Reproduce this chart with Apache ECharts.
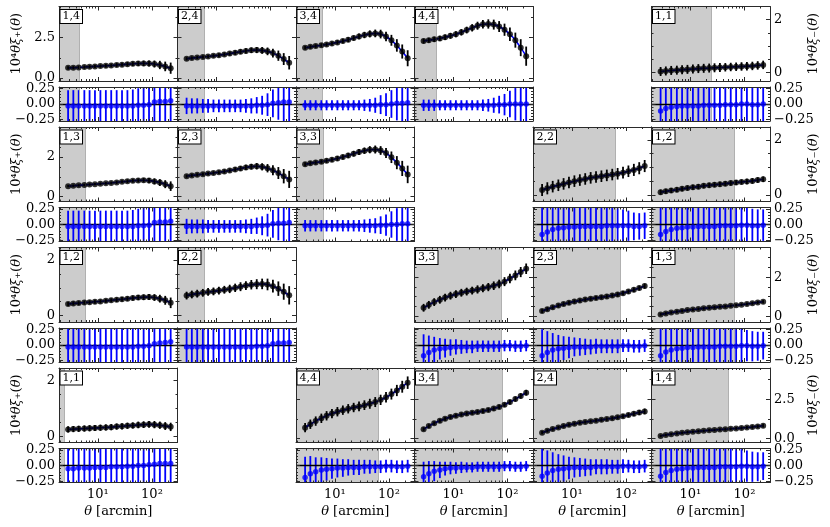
<!DOCTYPE html>
<html>
<head>
<meta charset="utf-8">
<script src="https://cdn.jsdelivr.net/npm/echarts@6/dist/echarts.min.js"></script>
<style>html,body{margin:0;background:#fff}#main{width:830px;height:527px}</style>
</head>
<body>
<div id="main"></div>
<script>
// angular bins [arcmin]
var theta = [2.8, 3.5, 4.4, 5.6, 7.0, 8.8, 11.1, 14.0, 17.6, 22.2, 27.9, 35.1, 44.2, 55.7, 70.1, 88.2, 111, 140, 176, 222];
var xMajor = [10, 100];
var xMinor = [2, 3, 4, 5, 6, 7, 8, 9, 20, 30, 40, 50, 60, 70, 80, 90, 200];

// xi+ (10^4 theta xi_+)
var xip_14 = [0.62,0.63,0.65,0.67,0.69,0.71,0.73,0.75,0.77,0.80,0.82,0.85,0.87,0.89,0.90,0.89,0.86,0.80,0.71,0.60];
var xip_14_err = [0.10,0.10,0.10,0.10,0.10,0.10,0.10,0.11,0.11,0.12,0.12,0.13,0.14,0.15,0.17,0.19,0.22,0.26,0.30,0.35];
var xip_24 = [1.19,1.23,1.27,1.30,1.33,1.37,1.41,1.46,1.51,1.57,1.63,1.68,1.72,1.73,1.71,1.65,1.54,1.38,1.17,0.94];
var xip_24_err = [0.10,0.10,0.10,0.10,0.11,0.11,0.12,0.12,0.13,0.14,0.15,0.16,0.17,0.19,0.21,0.24,0.28,0.32,0.37,0.42];
var xip_34 = [1.88,1.93,1.98,2.03,2.08,2.14,2.21,2.29,2.38,2.48,2.58,2.67,2.74,2.77,2.73,2.58,2.34,2.02,1.64,1.22];
var xip_34_err = [0.11,0.11,0.11,0.12,0.12,0.13,0.13,0.14,0.15,0.16,0.18,0.20,0.22,0.24,0.27,0.30,0.34,0.39,0.44,0.50];
var xip_44 = [2.29,2.34,2.40,2.46,2.53,2.62,2.72,2.84,2.98,3.12,3.25,3.34,3.36,3.32,3.20,3.00,2.72,2.35,1.88,1.35];
var xip_44_err = [0.15,0.15,0.16,0.16,0.17,0.18,0.19,0.20,0.21,0.23,0.25,0.27,0.29,0.31,0.34,0.38,0.42,0.47,0.53,0.60];
var xip_13 = [0.53,0.55,0.57,0.59,0.61,0.63,0.65,0.67,0.69,0.72,0.75,0.78,0.80,0.82,0.83,0.81,0.77,0.71,0.63,0.53];
var xip_13_err = [0.06,0.06,0.06,0.06,0.06,0.06,0.07,0.07,0.07,0.08,0.08,0.09,0.09,0.10,0.11,0.13,0.15,0.17,0.20,0.24];
var xip_23 = [1.03,1.07,1.10,1.13,1.16,1.19,1.23,1.27,1.32,1.37,1.42,1.47,1.51,1.53,1.50,1.43,1.33,1.19,1.03,0.87];
var xip_23_err = [0.08,0.08,0.08,0.08,0.08,0.09,0.09,0.10,0.10,0.11,0.12,0.13,0.14,0.16,0.18,0.21,0.25,0.30,0.36,0.43];
var xip_33 = [1.63,1.68,1.72,1.76,1.81,1.86,1.92,1.99,2.07,2.16,2.24,2.31,2.36,2.37,2.32,2.19,1.98,1.71,1.42,1.12];
var xip_33_err = [0.10,0.10,0.10,0.10,0.11,0.11,0.12,0.12,0.13,0.14,0.15,0.16,0.18,0.20,0.22,0.25,0.29,0.33,0.38,0.44];
var xip_12 = [0.42,0.44,0.45,0.47,0.48,0.50,0.51,0.53,0.55,0.57,0.59,0.61,0.63,0.65,0.66,0.67,0.65,0.61,0.55,0.46];
var xip_12_err = [0.07,0.07,0.07,0.07,0.07,0.07,0.07,0.07,0.07,0.08,0.08,0.08,0.09,0.09,0.10,0.11,0.12,0.14,0.16,0.19];
var xip_22 = [0.72,0.76,0.79,0.82,0.85,0.87,0.90,0.93,0.96,1.00,1.04,1.08,1.11,1.13,1.14,1.12,1.06,0.97,0.86,0.73];
var xip_22_err = [0.14,0.14,0.14,0.14,0.14,0.14,0.14,0.14,0.15,0.15,0.16,0.16,0.17,0.18,0.19,0.21,0.23,0.26,0.29,0.33];
var xip_11 = [0.25,0.26,0.27,0.28,0.29,0.30,0.31,0.32,0.33,0.35,0.36,0.38,0.39,0.41,0.42,0.43,0.42,0.40,0.37,0.34];
var xip_11_err = [0.11,0.11,0.11,0.11,0.11,0.11,0.11,0.11,0.11,0.11,0.11,0.11,0.11,0.12,0.12,0.12,0.13,0.13,0.14,0.15];

// xi- (10^4 theta xi_-)
var xim_11 = [0.04,0.06,0.08,0.09,0.11,0.12,0.13,0.15,0.16,0.17,0.18,0.19,0.20,0.21,0.22,0.23,0.24,0.25,0.27,0.29];
var xim_11_err = [0.17,0.17,0.17,0.17,0.17,0.17,0.17,0.17,0.17,0.17,0.17,0.17,0.16,0.16,0.16,0.16,0.16,0.16,0.16,0.16];
var xim_22 = [0.18,0.24,0.30,0.35,0.40,0.45,0.50,0.54,0.58,0.62,0.65,0.68,0.71,0.74,0.77,0.81,0.86,0.91,0.97,1.05];
var xim_22_err = [0.22,0.22,0.21,0.21,0.21,0.21,0.21,0.21,0.21,0.21,0.21,0.21,0.21,0.21,0.21,0.21,0.21,0.22,0.22,0.22];
var xim_12 = [0.10,0.13,0.16,0.19,0.22,0.25,0.28,0.30,0.33,0.35,0.37,0.39,0.41,0.43,0.45,0.47,0.49,0.51,0.54,0.57];
var xim_12_err = [0.09,0.09,0.09,0.09,0.09,0.09,0.09,0.09,0.09,0.09,0.09,0.09,0.09,0.09,0.09,0.09,0.10,0.10,0.10,0.10];
var xim_33 = [0.43,0.58,0.72,0.84,0.95,1.05,1.13,1.20,1.26,1.31,1.37,1.43,1.49,1.56,1.65,1.77,1.93,2.09,2.26,2.43];
var xim_33_err = [0.20,0.20,0.20,0.20,0.20,0.20,0.20,0.20,0.20,0.20,0.21,0.21,0.21,0.22,0.22,0.23,0.24,0.25,0.26,0.27];
var xim_23 = [0.26,0.36,0.45,0.54,0.62,0.69,0.75,0.80,0.85,0.89,0.93,0.97,1.01,1.06,1.11,1.18,1.26,1.35,1.44,1.54];
var xim_23_err = [0.10,0.10,0.10,0.10,0.10,0.10,0.10,0.10,0.10,0.10,0.10,0.10,0.10,0.10,0.11,0.11,0.11,0.12,0.12,0.13];
var xim_13 = [0.09,0.14,0.19,0.23,0.27,0.31,0.34,0.37,0.40,0.43,0.45,0.48,0.50,0.53,0.56,0.59,0.62,0.66,0.70,0.74];
var xim_13_err = [0.07,0.07,0.07,0.07,0.07,0.07,0.07,0.07,0.07,0.07,0.07,0.07,0.07,0.07,0.07,0.07,0.08,0.08,0.08,0.09];
var xim_44 = [0.68,0.90,1.10,1.28,1.44,1.58,1.70,1.80,1.89,1.97,2.04,2.12,2.21,2.32,2.46,2.63,2.83,3.06,3.30,3.56];
var xim_44_err = [0.30,0.30,0.30,0.30,0.30,0.30,0.30,0.30,0.30,0.30,0.31,0.31,0.32,0.32,0.33,0.34,0.35,0.36,0.38,0.40];
var xim_34 = [0.58,0.78,0.96,1.12,1.25,1.36,1.45,1.52,1.58,1.63,1.68,1.74,1.81,1.90,2.01,2.15,2.32,2.51,2.71,2.92];
var xim_34_err = [0.12,0.12,0.12,0.12,0.12,0.12,0.12,0.12,0.12,0.12,0.12,0.13,0.13,0.13,0.14,0.14,0.15,0.16,0.17,0.18];
var xim_24 = [0.36,0.48,0.59,0.69,0.78,0.86,0.93,0.99,1.04,1.09,1.13,1.18,1.23,1.28,1.34,1.41,1.49,1.57,1.65,1.72];
var xim_24_err = [0.10,0.10,0.10,0.10,0.10,0.10,0.10,0.10,0.10,0.10,0.11,0.11,0.11,0.12,0.12,0.13,0.14,0.15,0.16,0.18];
var xim_14 = [0.15,0.21,0.26,0.31,0.35,0.39,0.42,0.45,0.48,0.51,0.53,0.56,0.58,0.61,0.63,0.66,0.69,0.72,0.76,0.81];
var xim_14_err = [0.08,0.08,0.08,0.08,0.08,0.08,0.08,0.08,0.08,0.08,0.08,0.08,0.09,0.09,0.09,0.10,0.10,0.11,0.11,0.12];

// fractional residuals, xi+ panels
var rp_14 = [-0.03,-0.03,-0.03,-0.03,-0.03,-0.03,-0.03,-0.03,-0.03,-0.03,-0.03,-0.03,-0.03,-0.02,-0.02,-0.01,0.03,0.04,0.04,0.05];
var rp_14_err = [0.25,0.25,0.25,0.25,0.25,0.25,0.25,0.25,0.25,0.25,0.25,0.25,0.26,0.27,0.30,0.33,0.40,0.45,0.50,0.55];
var rp_24 = [-0.03,-0.03,-0.03,-0.03,-0.03,-0.03,-0.03,-0.03,-0.03,-0.03,-0.03,-0.03,-0.03,-0.02,-0.02,-0.01,0.01,0.02,0.03,0.03];
var rp_24_err = [0.13,0.12,0.12,0.11,0.11,0.10,0.10,0.10,0.10,0.10,0.10,0.11,0.12,0.13,0.15,0.18,0.22,0.27,0.32,0.38];
var rp_34 = [-0.02,-0.02,-0.02,-0.02,-0.02,-0.02,-0.02,-0.02,-0.02,-0.02,-0.02,-0.02,-0.02,-0.02,-0.01,-0.01,0.00,0.01,0.01,0.02];
var rp_34_err = [0.08,0.08,0.08,0.08,0.08,0.08,0.08,0.08,0.08,0.08,0.08,0.09,0.10,0.12,0.15,0.18,0.22,0.27,0.32,0.38];
var rp_44 = [-0.02,-0.02,-0.02,-0.02,-0.02,-0.02,-0.02,-0.02,-0.02,-0.02,-0.02,-0.02,-0.02,-0.02,-0.01,-0.01,0.00,0.00,0.00,0.00];
var rp_44_err = [0.09,0.09,0.09,0.08,0.08,0.08,0.08,0.08,0.08,0.08,0.08,0.09,0.10,0.12,0.14,0.17,0.21,0.26,0.31,0.37];
var rp_13 = [-0.03,-0.03,-0.03,-0.03,-0.03,-0.03,-0.03,-0.03,-0.03,-0.03,-0.03,-0.03,-0.03,-0.02,-0.02,-0.01,0.03,0.04,0.04,0.05];
var rp_13_err = [0.25,0.25,0.25,0.25,0.25,0.25,0.25,0.25,0.25,0.25,0.25,0.25,0.26,0.27,0.30,0.33,0.40,0.45,0.50,0.55];
var rp_23 = [-0.03,-0.03,-0.03,-0.03,-0.03,-0.03,-0.03,-0.03,-0.03,-0.03,-0.03,-0.03,-0.03,-0.02,-0.02,-0.01,0.01,0.02,0.02,0.03];
var rp_23_err = [0.12,0.11,0.11,0.11,0.10,0.10,0.10,0.10,0.10,0.10,0.10,0.11,0.12,0.13,0.15,0.18,0.22,0.27,0.32,0.38];
var rp_33 = [-0.02,-0.02,-0.02,-0.02,-0.02,-0.02,-0.02,-0.02,-0.02,-0.02,-0.02,-0.02,-0.02,-0.02,-0.01,-0.01,0.00,0.00,0.01,0.01];
var rp_33_err = [0.09,0.09,0.09,0.09,0.09,0.09,0.09,0.09,0.09,0.09,0.09,0.10,0.11,0.12,0.14,0.17,0.21,0.26,0.31,0.37];
var rp_12 = [-0.03,-0.03,-0.03,-0.03,-0.03,-0.03,-0.03,-0.03,-0.03,-0.03,-0.03,-0.03,-0.03,-0.02,-0.02,-0.01,0.02,0.03,0.04,0.05];
var rp_12_err = [0.30,0.30,0.30,0.30,0.30,0.30,0.30,0.30,0.30,0.30,0.30,0.30,0.30,0.32,0.34,0.37,0.42,0.47,0.52,0.57];
var rp_22 = [-0.03,-0.03,-0.03,-0.03,-0.03,-0.03,-0.03,-0.03,-0.03,-0.03,-0.03,-0.03,-0.03,-0.02,-0.02,-0.01,0.02,0.03,0.03,0.04];
var rp_22_err = [0.30,0.30,0.30,0.30,0.30,0.30,0.30,0.30,0.30,0.30,0.30,0.30,0.30,0.32,0.34,0.37,0.42,0.47,0.52,0.57];
var rp_11 = [-0.05,-0.05,-0.04,-0.04,-0.04,-0.03,-0.03,-0.03,-0.02,-0.02,-0.02,-0.01,-0.01,0.00,0.00,0.01,0.02,0.03,0.03,0.03];
var rp_11_err = [0.32,0.32,0.32,0.32,0.32,0.32,0.32,0.32,0.32,0.32,0.32,0.32,0.33,0.34,0.36,0.38,0.42,0.46,0.50,0.55];

// fractional residuals, xi- panels
var rm_11 = [-0.11,-0.07,-0.05,-0.04,-0.03,-0.03,-0.03,-0.03,-0.02,-0.02,-0.02,-0.02,-0.01,-0.01,-0.01,0.00,0.00,-0.01,-0.01,0.00];
var rm_11_err = [0.40,0.40,0.40,0.40,0.40,0.40,0.40,0.40,0.40,0.40,0.40,0.40,0.40,0.40,0.40,0.40,0.40,0.40,0.40,0.40];
var rm_22 = [-0.16,-0.12,-0.08,-0.06,-0.05,-0.04,-0.04,-0.03,-0.03,-0.03,-0.03,-0.03,-0.02,-0.02,-0.02,-0.02,-0.02,-0.03,-0.03,-0.02];
var rm_22_err = [0.45,0.42,0.40,0.38,0.37,0.36,0.35,0.34,0.33,0.32,0.31,0.30,0.30,0.29,0.28,0.26,0.24,0.22,0.21,0.21];
var rm_12 = [-0.16,-0.11,-0.08,-0.06,-0.05,-0.04,-0.04,-0.03,-0.03,-0.03,-0.03,-0.02,-0.02,-0.02,-0.02,-0.01,-0.01,-0.02,-0.02,-0.01];
var rm_12_err = [0.50,0.48,0.46,0.44,0.42,0.40,0.38,0.37,0.36,0.35,0.34,0.33,0.32,0.31,0.30,0.29,0.28,0.27,0.26,0.25];
var rm_33 = [-0.17,-0.12,-0.08,-0.06,-0.05,-0.04,-0.03,-0.03,-0.03,-0.03,-0.02,-0.02,-0.02,-0.02,-0.02,-0.01,-0.01,-0.02,-0.02,-0.01];
var rm_33_err = [0.34,0.27,0.21,0.17,0.15,0.13,0.12,0.11,0.10,0.10,0.09,0.09,0.09,0.09,0.09,0.09,0.09,0.09,0.09,0.09];
var rm_23 = [-0.17,-0.12,-0.08,-0.06,-0.05,-0.04,-0.03,-0.03,-0.03,-0.03,-0.02,-0.02,-0.02,-0.02,-0.02,-0.01,-0.01,-0.02,-0.02,-0.01];
var rm_23_err = [0.42,0.34,0.27,0.22,0.19,0.17,0.15,0.14,0.13,0.12,0.12,0.11,0.11,0.11,0.11,0.10,0.10,0.10,0.10,0.10];
var rm_13 = [-0.17,-0.11,-0.08,-0.06,-0.05,-0.04,-0.04,-0.03,-0.03,-0.03,-0.03,-0.02,-0.02,-0.02,-0.02,-0.01,-0.01,-0.02,-0.02,-0.01];
var rm_13_err = [0.55,0.52,0.49,0.46,0.44,0.42,0.40,0.38,0.36,0.34,0.33,0.32,0.30,0.29,0.28,0.27,0.25,0.24,0.23,0.22];
var rm_44 = [-0.19,-0.13,-0.10,-0.07,-0.06,-0.05,-0.04,-0.04,-0.03,-0.03,-0.03,-0.02,-0.02,-0.02,-0.02,-0.01,-0.01,-0.02,-0.02,-0.01];
var rm_44_err = [0.33,0.28,0.23,0.20,0.18,0.16,0.15,0.14,0.13,0.12,0.12,0.11,0.11,0.10,0.10,0.10,0.10,0.10,0.10,0.10];
var rm_34 = [-0.18,-0.13,-0.09,-0.07,-0.05,-0.04,-0.04,-0.03,-0.03,-0.03,-0.02,-0.02,-0.02,-0.02,-0.02,-0.01,-0.01,-0.02,-0.02,-0.01];
var rm_34_err = [0.24,0.20,0.16,0.13,0.11,0.10,0.09,0.09,0.08,0.08,0.08,0.08,0.08,0.08,0.08,0.08,0.08,0.08,0.08,0.08];
var rm_24 = [-0.17,-0.12,-0.08,-0.06,-0.05,-0.04,-0.03,-0.03,-0.03,-0.03,-0.02,-0.02,-0.02,-0.02,-0.02,-0.01,-0.01,-0.02,-0.02,-0.01];
var rm_24_err = [0.45,0.36,0.29,0.24,0.21,0.18,0.16,0.15,0.14,0.13,0.12,0.12,0.12,0.11,0.11,0.11,0.10,0.10,0.10,0.10];
var rm_14 = [-0.17,-0.11,-0.08,-0.06,-0.05,-0.04,-0.04,-0.03,-0.03,-0.03,-0.03,-0.02,-0.02,-0.02,-0.02,-0.01,-0.01,-0.02,-0.02,-0.01];
var rm_14_err = [0.55,0.52,0.49,0.46,0.44,0.42,0.40,0.38,0.36,0.34,0.33,0.32,0.30,0.29,0.28,0.27,0.25,0.24,0.23,0.22];

// y ranges and ticks per row: [min, max]
var plusRange = [[-0.2, 4.45], [-0.24, 3.5], [-0.23, 2.45], [-0.22, 2.45]];
var plusLabels = [[0, 2.5], [0, 2], [0, 2], [0, 2]];
var plusTicks = [[1.25, 3.75], [0.5, 1, 1.5, 2.5, 3], [0.5, 1, 1.5], [0.5, 1, 1.5]];
var minusRange = [[-0.32, 2.5], [-0.24, 2.47], [-0.3, 3.52], [-0.27, 4.5]];
var minusLabels = [[0, 2], [0, 2], [0, 2], [0, 2.5]];
var minusTicks = [[0.5, 1, 1.5], [0.5, 1, 1.5], [0.5, 1, 1.5, 2.5, 3], [1.25, 3.75]];
var resRange = [-0.27, 0.27];
var resLabels = [-0.25, 0, 0.25];
var resTicks = [-0.2, -0.15, -0.1, -0.05, 0.05, 0.1, 0.15, 0.2];

var panels = [
  {label: '1,4', kind: 'p', row: 0, col: 0, val: xip_14, err: xip_14_err, res: rp_14, resErr: rp_14_err, cut: 4.6},
  {label: '2,4', kind: 'p', row: 0, col: 1, val: xip_24, err: xip_24_err, res: rp_24, resErr: rp_24_err, cut: 5.9},
  {label: '3,4', kind: 'p', row: 0, col: 2, val: xip_34, err: xip_34_err, res: rp_34, resErr: rp_34_err, cut: 5.9},
  {label: '4,4', kind: 'p', row: 0, col: 3, val: xip_44, err: xip_44_err, res: rp_44, resErr: rp_44_err, cut: 4.8},
  {label: '1,1', kind: 'm', row: 0, col: 5, val: xim_11, err: xim_11_err, res: rm_11, resErr: rm_11_err, cut: 24.6},
  {label: '1,3', kind: 'p', row: 1, col: 0, val: xip_13, err: xip_13_err, res: rp_13, resErr: rp_13_err, cut: 5.9},
  {label: '2,3', kind: 'p', row: 1, col: 1, val: xip_23, err: xip_23_err, res: rp_23, resErr: rp_23_err, cut: 5.9},
  {label: '3,3', kind: 'p', row: 1, col: 2, val: xip_33, err: xip_33_err, res: rp_33, resErr: rp_33_err, cut: 6.0},
  {label: '2,2', kind: 'm', row: 1, col: 4, val: xim_22, err: xim_22_err, res: rm_22, resErr: rm_22_err, cut: 64},
  {label: '1,2', kind: 'm', row: 1, col: 5, val: xim_12, err: xim_12_err, res: rm_12, resErr: rm_12_err, cut: 64},
  {label: '1,2', kind: 'p', row: 2, col: 0, val: xip_12, err: xip_12_err, res: rp_12, resErr: rp_12_err, cut: 5.9},
  {label: '2,2', kind: 'p', row: 2, col: 1, val: xip_22, err: xip_22_err, res: rp_22, resErr: rp_22_err, cut: 5.9},
  {label: '3,3', kind: 'm', row: 2, col: 3, val: xim_33, err: xim_33_err, res: rm_33, resErr: rm_33_err, cut: 78},
  {label: '2,3', kind: 'm', row: 2, col: 4, val: xim_23, err: xim_23_err, res: rm_23, resErr: rm_23_err, cut: 80},
  {label: '1,3', kind: 'm', row: 2, col: 5, val: xim_13, err: xim_13_err, res: rm_13, resErr: rm_13_err, cut: 65},
  {label: '1,1', kind: 'p', row: 3, col: 0, val: xip_11, err: xip_11_err, res: rp_11, resErr: rp_11_err, cut: 2.35},
  {label: '4,4', kind: 'm', row: 3, col: 2, val: xim_44, err: xim_44_err, res: rm_44, resErr: rm_44_err, cut: 63},
  {label: '3,4', kind: 'm', row: 3, col: 3, val: xim_34, err: xim_34_err, res: rm_34, resErr: rm_34_err, cut: 80},
  {label: '2,4', kind: 'm', row: 3, col: 4, val: xim_24, err: xim_24_err, res: rm_24, resErr: rm_24_err, cut: 80},
  {label: '1,4', kind: 'm', row: 3, col: 5, val: xim_14, err: xim_14_err, res: rm_14, resErr: rm_14_err, cut: 50}
];

// layout
var XMIN = 1.9, XMAX = 297;
var X0 = 59, CW = 118.5, TOP0 = 6.5, ROWH = 120.5, MAINH = 74.5, RESGAP = 6, RESH = 34;
var FONT = 'DejaVu Serif';
var FS = 13;
var FRAME = '#2a2a2a', SHADE = '#cccccc', CUTLINE = '#b0b0b0', BLUE = '#0000ff';

var grids = [], xAxes = [], yAxes = [], series = [], graphics = [];
var italic = {i: {fontStyle: 'italic', fontFamily: FONT, fontSize: FS, color: '#000'}};

function supFmt(v) {
  return Math.round(Math.log(v) / Math.LN10) === 1 ? '10\u00b9' : '10\u00b2';
}

function addXAxes(gi, showLabels) {
  var first = xAxes.length;
  ['bottom', 'top'].forEach(function (pos) {
    var bottom = pos === 'bottom';
    xAxes.push({
      type: 'log', logBase: 10, gridIndex: gi, position: pos, min: XMIN, max: XMAX, z: 10,
      splitLine: {show: false},
      axisLine: {show: true, onZero: false, lineStyle: {color: FRAME, width: 1}},
      axisTick: {show: true, inside: true, length: 4, customValues: xMajor, lineStyle: {color: FRAME}},
      axisLabel: {show: bottom && showLabels, customValues: xMajor, formatter: supFmt,
        fontFamily: FONT, fontSize: FS, color: '#000', margin: 6},
      name: bottom && showLabels ? '{i|\u03b8} [arcmin]' : '',
      nameLocation: 'middle', nameGap: 23,
      nameTextStyle: {fontFamily: FONT, fontSize: FS, color: '#000', rich: italic}
    });
    xAxes.push({
      type: 'log', logBase: 10, gridIndex: gi, position: pos, min: XMIN, max: XMAX, z: 10,
      splitLine: {show: false},
      axisLine: {show: false, onZero: false},
      axisTick: {show: true, inside: true, length: 2, customValues: xMinor, lineStyle: {color: FRAME}},
      axisLabel: {show: false}
    });
  });
  return first;
}

function addYAxes(gi, range, labels, ticks, labelSide, fmt, name) {
  var first = yAxes.length;
  ['left', 'right'].forEach(function (pos) {
    var lab = pos === labelSide;
    yAxes.push({
      type: 'value', gridIndex: gi, position: pos, min: range[0], max: range[1], z: 10,
      splitLine: {show: false},
      axisLine: {show: true, onZero: false, lineStyle: {color: FRAME, width: 1}},
      axisTick: {show: true, inside: true, length: 4, customValues: labels, lineStyle: {color: FRAME}},
      axisLabel: {show: lab, customValues: labels, formatter: fmt,
        fontFamily: FONT, fontSize: FS, color: '#000', margin: 4},
      name: lab && name ? name : '',
      nameLocation: 'middle', nameRotate: 90, nameGap: pos === 'left' ? 36 : 37,
      nameTextStyle: {fontFamily: FONT, fontSize: FS, color: '#000', rich: italic}
    });
    yAxes.push({
      type: 'value', gridIndex: gi, position: pos, min: range[0], max: range[1], z: 10,
      splitLine: {show: false},
      axisLine: {show: false, onZero: false},
      axisTick: {show: true, inside: true, length: 2, customValues: ticks, lineStyle: {color: FRAME}},
      axisLabel: {show: false}
    });
  });
  return first;
}

function errorSeries(xi, yi, vals, errs, color, width) {
  return {
    type: 'custom', xAxisIndex: xi, yAxisIndex: yi, silent: true, z: 4,
    encode: {x: 0, y: [1, 2]},
    data: theta.map(function (t, i) { return [t, vals[i] - errs[i], vals[i] + errs[i]]; }),
    renderItem: function (params, api) {
      var cs = params.coordSys;
      var a = api.coord([api.value(0), api.value(1)]);
      var b = api.coord([api.value(0), api.value(2)]);
      var lo = cs.y, hi = cs.y + cs.height;
      return {
        type: 'line',
        shape: {x1: a[0], y1: Math.min(hi, Math.max(lo, a[1])), x2: b[0], y2: Math.min(hi, Math.max(lo, b[1]))},
        style: {stroke: color, lineWidth: width}
      };
    }
  };
}

function shadeSeries(xi, yi, cut, zeroLine) {
  var lines = [{xAxis: cut, lineStyle: {color: CUTLINE, width: 1, type: 'solid'}}];
  if (zeroLine) lines.push({yAxis: 0, lineStyle: {color: '#000', width: 1.3, type: 'solid'}});
  return {
    type: 'line', xAxisIndex: xi, yAxisIndex: yi, data: [], silent: true, z: 1,
    markArea: {silent: true, itemStyle: {color: SHADE}, data: [[{xAxis: XMIN}, {xAxis: cut}]]},
    markLine: {silent: true, symbol: ['none', 'none'], label: {show: false}, animation: false, data: lines}
  };
}

function fmtOne(v) { return v.toFixed(1); }
function fmtInt(v) { return v.toFixed(0); }
function fmtRes(v) { return v.toFixed(2).replace('-', '\u2212'); }

panels.forEach(function (p) {
  var left = X0 + p.col * CW;
  var top = TOP0 + p.row * ROWH;
  var plus = p.kind === 'p';
  var range = (plus ? plusRange : minusRange)[p.row];
  var labels = (plus ? plusLabels : minusLabels)[p.row];
  var ticks = (plus ? plusTicks : minusTicks)[p.row];
  var labelSide = p.col === 0 ? 'left' : (p.col === 5 ? 'right' : 'none');
  var yname = plus ? '10\u2074{i|\u03b8\u03be}\u208a({i|\u03b8})' : '10\u2074{i|\u03b8\u03be}\u208b({i|\u03b8})';
  var bottomRow = p.row === 3;

  // main panel
  grids.push({left: left, top: top, width: CW, height: MAINH});
  var g = grids.length - 1;
  var xi = addXAxes(g, false);
  var yi = addYAxes(g, range, labels, ticks, labelSide,
    labels[1] === 2.5 ? fmtOne : fmtInt, yname);
  series.push(shadeSeries(xi, yi, p.cut, false));
  series.push({
    type: 'line', xAxisIndex: xi, yAxisIndex: yi, smooth: 0.3, showSymbol: false, silent: true, z: 3,
    lineStyle: {color: BLUE, width: 1.6},
    data: theta.map(function (t, i) { return [t, p.val[i]]; })
  });
  series.push(errorSeries(xi, yi, p.val, p.err, '#000', 1.8));
  series.push({
    type: 'scatter', xAxisIndex: xi, yAxisIndex: yi, symbolSize: 6, silent: true, z: 5,
    itemStyle: {color: '#000'},
    data: theta.map(function (t, i) { return [t, p.val[i]]; })
  });

  // residual panel
  grids.push({left: left, top: top + MAINH + RESGAP, width: CW, height: RESH});
  var gr = grids.length - 1;
  var xr = addXAxes(gr, bottomRow);
  var yr = addYAxes(gr, resRange, resLabels, resTicks, labelSide, fmtRes, '');
  series.push(shadeSeries(xr, yr, p.cut, true));
  series.push(errorSeries(xr, yr, p.res, p.resErr, BLUE, 1.8));
  series.push({
    type: 'scatter', xAxisIndex: xr, yAxisIndex: yr, symbolSize: 5.5, silent: true, z: 5,
    itemStyle: {color: BLUE},
    data: theta.map(function (t, i) { return [t, p.res[i]]; })
  });

  graphics.push({
    type: 'text', x: left + 1.5, y: top + 3.5, z: 100, silent: true,
    style: {text: p.label, fontFamily: FONT, fontSize: 11, fill: '#000', align: 'left', verticalAlign: 'top',
      backgroundColor: '#fff', borderColor: '#000', borderWidth: 1, padding: [1, 2, 1, 2]}
  });
});

var chart = echarts.init(document.getElementById('main'));
chart.setOption({
  animation: false,
  backgroundColor: '#fff',
  grid: grids,
  xAxis: xAxes,
  yAxis: yAxes,
  series: series,
  graphic: graphics
});
</script>
</body>
</html>
